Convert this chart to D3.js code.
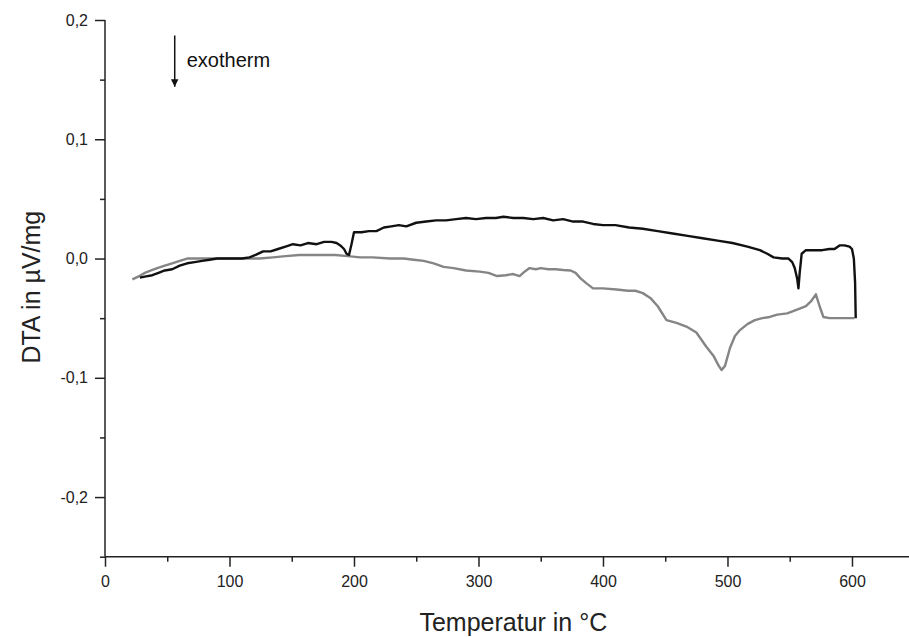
<!DOCTYPE html>
<html>
<head>
<meta charset="utf-8">
<script src="https://cdn.jsdelivr.net/npm/d3@7"></script>
<style>
  html, body { margin: 0; padding: 0; background: #fff; }
  svg { display: block; font-family: "Liberation Sans", Arial, sans-serif; }
</style>
</head>
<body>
<div id="chart"></div>
<script>
// black curve
const blackT = [28, 33, 38, 43, 48, 54, 60, 66, 72, 78, 84, 90, 100, 110, 116, 121, 127, 133, 139, 145, 151, 157, 163, 170, 176, 182, 186, 189, 192, 194, 196, 198, 200, 206, 212, 218, 224, 230, 236, 242, 250, 258, 266, 274, 282, 290, 298, 306, 314, 320, 328, 336, 344, 352, 360, 368, 376, 384, 392, 400, 410, 421, 432, 444, 456, 468, 480, 492, 504, 516, 526, 532, 537, 544, 549, 552, 554, 556, 557, 558, 559.6, 563, 570, 576, 582, 586, 590, 594, 598, 600, 601.5, 602.5, 603];
const blackV = [-0.016, -0.015, -0.014, -0.012, -0.010, -0.009, -0.006, -0.004, -0.003, -0.002, -0.001, 0.000, 0.000, 0.000, 0.001, 0.003, 0.006, 0.006, 0.008, 0.010, 0.012, 0.011, 0.013, 0.012, 0.014, 0.014, 0.013, 0.011, 0.008, 0.004, 0.003, 0.012, 0.022, 0.022, 0.023, 0.023, 0.026, 0.027, 0.028, 0.027, 0.030, 0.031, 0.032, 0.032, 0.033, 0.034, 0.033, 0.034, 0.034, 0.035, 0.034, 0.034, 0.033, 0.034, 0.032, 0.033, 0.031, 0.031, 0.029, 0.028, 0.028, 0.026, 0.025, 0.023, 0.021, 0.019, 0.017, 0.015, 0.013, 0.010, 0.007, 0.004, 0.001, 0.000, 0.000, -0.003, -0.008, -0.017, -0.025, -0.012, 0.004, 0.007, 0.007, 0.007, 0.008, 0.008, 0.011, 0.011, 0.010, 0.008, 0.000, -0.020, -0.050];

// grey curve
const greyT = [22, 27, 32, 37, 42, 48, 54, 60, 66, 80, 100, 124, 135, 145, 156, 170, 185, 195, 205, 215, 229, 240, 248, 256, 264, 272, 280, 290, 301, 308, 315, 322, 328, 333, 337, 341, 346, 350, 356, 362, 368, 374, 378, 382, 387, 392, 400, 411, 420, 426, 432, 438, 444, 451, 459, 467, 475, 483, 489, 493, 495.3, 498, 502, 506, 510, 516, 522, 528, 534, 540, 548, 558, 563, 567, 571, 574, 577, 582, 590, 597, 602];
const greyV = [-0.0175, -0.015, -0.012, -0.010, -0.008, -0.006, -0.004, -0.002, 0.000, 0.000, 0.000, 0.000, 0.001, 0.002, 0.003, 0.003, 0.003, 0.002, 0.001, 0.001, 0.000, 0.000, -0.001, -0.002, -0.004, -0.007, -0.008, -0.010, -0.011, -0.012, -0.0147, -0.014, -0.013, -0.0147, -0.011, -0.008, -0.009, -0.008, -0.009, -0.009, -0.0096, -0.010, -0.012, -0.0166, -0.021, -0.025, -0.025, -0.026, -0.027, -0.027, -0.029, -0.033, -0.040, -0.0516, -0.054, -0.057, -0.062, -0.074, -0.082, -0.090, -0.0935, -0.090, -0.075, -0.065, -0.060, -0.055, -0.0516, -0.050, -0.049, -0.047, -0.046, -0.042, -0.040, -0.036, -0.030, -0.040, -0.049, -0.050, -0.050, -0.050, -0.050];

const xMajor = [0, 100, 200, 300, 400, 500, 600];
const xMinor = [50, 150, 250, 350, 450, 550];
const yMajor = [-0.2, -0.1, 0.0, 0.1, 0.2];
const yMinor = [-0.25, -0.15, -0.05, 0.05, 0.15];

const width = 909, height = 637;
const axisColor = "#222";

const x = d3.scaleLinear().domain([0, 645]).range([105, 908]);
const y = d3.scaleLinear().domain([-0.25, 0.2]).range([556.7, 20]);

const svg = d3.select("#chart")
  .append("svg")
  .attr("width", width)
  .attr("height", height);

const fmt = d => d3.format(".1f")(d).replace(".", ",").replace("−", "-");

// y axis, major + minor
svg.append("g")
  .attr("transform", `translate(${x(0)},0)`)
  .call(d3.axisLeft(y).tickValues(yMajor).tickFormat(fmt).tickSize(10).tickPadding(7));
svg.append("g")
  .attr("transform", `translate(${x(0)},0)`)
  .call(d3.axisLeft(y).tickValues(yMinor).tickFormat("").tickSize(5));

// x axis, major + minor
svg.append("g")
  .attr("transform", `translate(0,${y(-0.25)})`)
  .call(d3.axisBottom(x).tickValues(xMajor).tickSize(10).tickPadding(9));
svg.append("g")
  .attr("transform", `translate(0,${y(-0.25)})`)
  .call(d3.axisBottom(x).tickValues(xMinor).tickFormat("").tickSize(5));

// plain axis lines, no outer ticks
svg.selectAll(".domain").remove();
svg.selectAll(".tick line").attr("stroke", axisColor).attr("stroke-width", 1.5);
svg.selectAll(".tick text")
  .attr("font-size", 16)
  .attr("font-family", "Liberation Sans, Arial, sans-serif")
  .attr("fill", axisColor);

svg.append("line")
  .attr("x1", x(0)).attr("x2", x(0))
  .attr("y1", y(0.2)).attr("y2", y(-0.25))
  .attr("stroke", axisColor).attr("stroke-width", 1.5);
svg.append("line")
  .attr("x1", x(0)).attr("x2", width)
  .attr("y1", y(-0.25)).attr("y2", y(-0.25))
  .attr("stroke", axisColor).attr("stroke-width", 1.5);

// curves
const line = d3.line().x(d => x(d[0])).y(d => y(d[1]));
const greyData = greyT.map((t, i) => [t, greyV[i]]);
const blackData = blackT.map((t, i) => [t, blackV[i]]);

svg.append("path")
  .datum(greyData)
  .attr("fill", "none")
  .attr("stroke", "#858585")
  .attr("stroke-width", 2.4)
  .attr("stroke-linejoin", "round")
  .attr("d", line);

svg.append("path")
  .datum(blackData)
  .attr("fill", "none")
  .attr("stroke", "#111")
  .attr("stroke-width", 2.4)
  .attr("stroke-linejoin", "round")
  .attr("d", line);

// axis titles
svg.append("text")
  .attr("x", x(328))
  .attr("y", 631)
  .attr("text-anchor", "middle")
  .attr("font-size", 25)
  .attr("fill", axisColor)
  .text("Temperatur in °C");

svg.append("text")
  .attr("transform", `translate(40,${y(-0.024)}) rotate(-90)`)
  .attr("text-anchor", "middle")
  .attr("font-size", 25)
  .attr("fill", axisColor)
  .text("DTA in µV/mg");

// exotherm marker
const arrowX = x(56);
svg.append("defs").append("marker")
  .attr("id", "head")
  .attr("viewBox", "0 0 10 10")
  .attr("refX", 10).attr("refY", 5)
  .attr("markerWidth", 5).attr("markerHeight", 6)
  .attr("markerUnits", "strokeWidth")
  .attr("orient", "auto")
  .append("path").attr("d", "M0,0 L10,5 L0,10 z").attr("fill", "#111");

svg.append("line")
  .attr("x1", arrowX).attr("x2", arrowX)
  .attr("y1", y(0.187)).attr("y2", y(0.144))
  .attr("stroke", "#111").attr("stroke-width", 1.5)
  .attr("marker-end", "url(#head)");

svg.append("text")
  .attr("x", arrowX + 12)
  .attr("y", y(0.161))
  .attr("font-size", 20)
  .attr("fill", "#111")
  .text("exotherm");
</script>
</body>
</html>
